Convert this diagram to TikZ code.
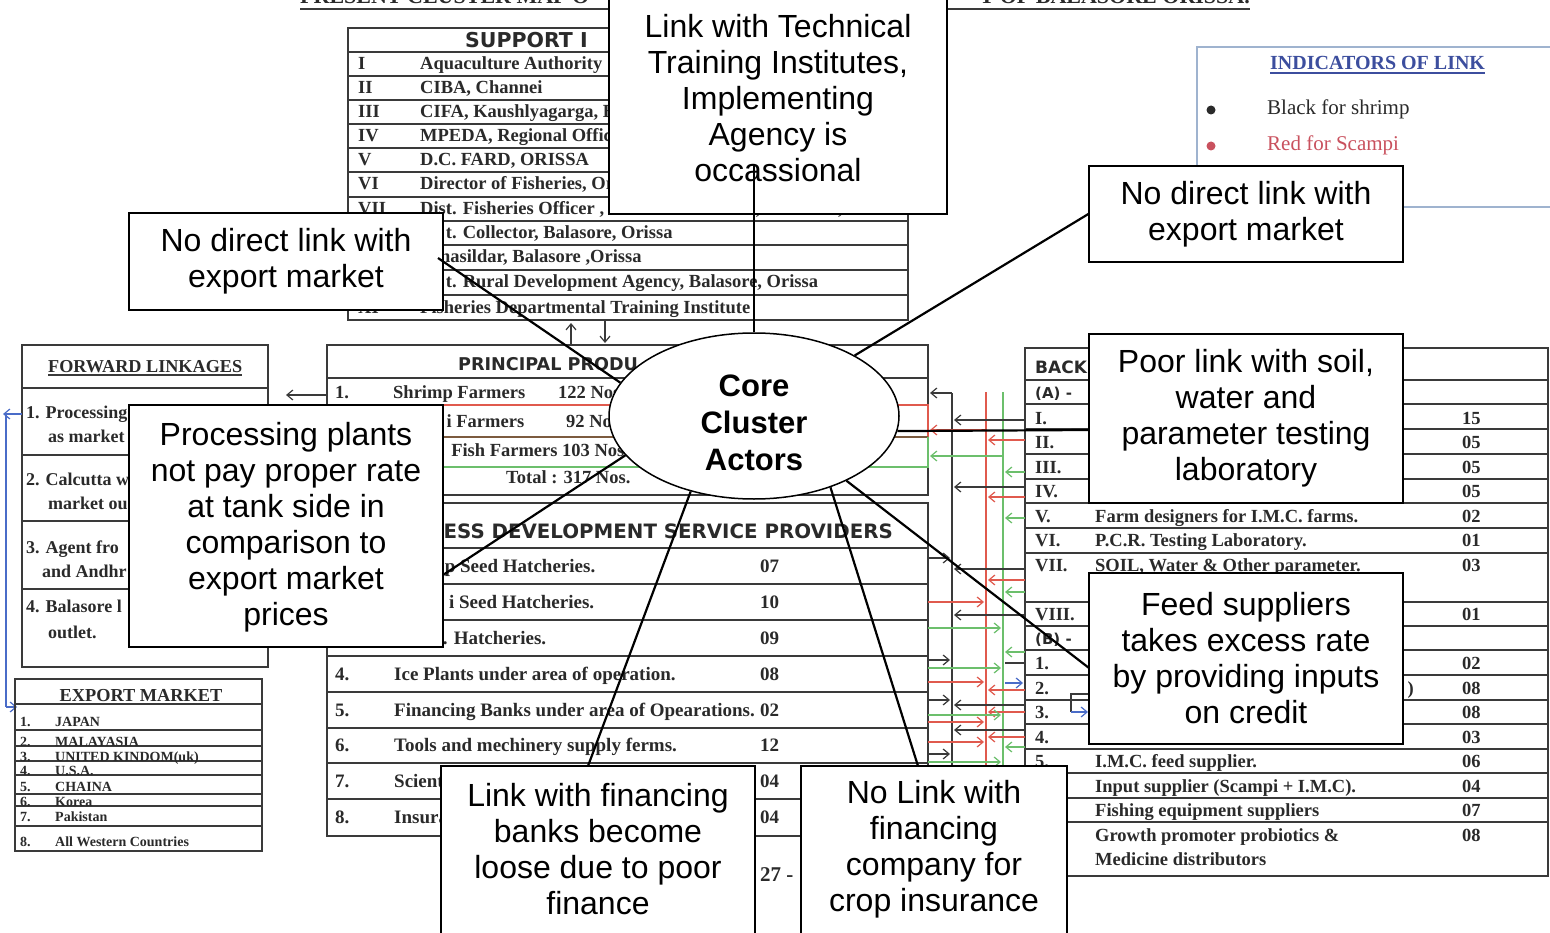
\documentclass[tikz,border=0pt]{standalone}
\usepackage{fontspec}
\setmainfont{Liberation Serif}
\newfontfamily\sansf{Liberation Sans}
\newfontfamily\hdrf{DejaVu Sans}
\usetikzlibrary{shapes.geometric,arrows.meta}
\newcommand\fsz[2]{\fontsize{#1}{#2}\selectfont}
\definecolor{docline}{HTML}{3A3A3A}
\definecolor{doctext}{HTML}{2A2A2A}
\definecolor{lred}{HTML}{E05A4E}
\definecolor{lgreen}{HTML}{6CBF6C}
\definecolor{lblue}{HTML}{4A6CC8}
\definecolor{indblue}{HTML}{3C4E9E}
\definecolor{indframe}{HTML}{9FB3CF}
\definecolor{scred}{HTML}{C9515E}
\begin{document}
\begin{tikzpicture}[x=1pt,y=-1pt,
  tline/.style={draw=docline, line width=1.7pt},
  tthin/.style={draw=docline, line width=1.2pt},
  ttxt/.style={anchor=base west, inner sep=0pt, text=doctext, font=\bfseries\fsz{18.5}{20}},
  etxt/.style={anchor=base west, inner sep=0pt, text=doctext, font=\bfseries\fsz{14}{15}},
  htxt/.style={anchor=base west, inner sep=0pt, text=doctext, font=\hdrf\bfseries\fsz{19}{22}},
  cbox/.style={draw=black, line width=1.3pt, fill=white, inner sep=0pt},
  ctext/.style={font=\sansf\fsz{32}{36}, align=center, inner sep=0pt, text=black},
  conn/.style={draw=black, line width=2.2pt},
  barb/.style={-{Straight Barb[length=6pt,width=10pt]}, line width=1.2pt},
]
\useasboundingbox (0,0) rectangle (1550,933);
\fill[white] (0,0) rectangle (1550,933);

% ---------- title ----------
\node[anchor=base west, inner sep=0pt, text=doctext, font=\bfseries\fsz{22}{24}] (t1) at (300,4) {PRESENT CLUSTER MAP O};
\node[anchor=base east, inner sep=0pt, text=doctext, font=\bfseries\fsz{22}{24}] (t2) at (1250,4) {T OF BALASORE ORISSA.};
\draw[docline, line width=2pt] ([yshift=-5pt]t1.base west) -- ([yshift=-5pt]t2.base east);

% ---------- support table ----------
\draw[tline] (348,28) rectangle (908,320);
\foreach \y in {52,76,100,124,148,172,197,221,245,270,295} \draw[tline] (348,\y) -- (908,\y);
\node[htxt, font=\hdrf\bfseries\fsz{20.5}{24}] (shdr) at (465,48) {SUPPORT I};
\foreach \r/\t/\y [count=\i] in {
  I/{Aquaculture Authority}/70,
  II/{CIBA, Channei}/94,
  III/{CIFA, Kaushlyagarga, B}/118,
  IV/{MPEDA, Regional Office}/142,
  V/{D.C. FARD, ORISSA}/166,
  VI/{Director of Fisheries, Orissa}/190,
  VII/{Dist. Fisheries Officer , F.F.D.A \& B.F.D.A, Balasore ,Orissa}/215}
{
  \node[ttxt] (sn\i) at (358,\y) {\r};
  \node[ttxt] (st\i) at (420,\y) {\t};
}
\node[ttxt] (st8) at (420,239) {\phantom{Dis}t. Collector, Balasore, Orissa};
\node[ttxt] (st9) at (420,263) {\phantom{Ta}hasildar, Balasore ,Orissa};
\node[ttxt] (st10) at (420,288) {\phantom{Dis}t. Rural Development Agency, Balasore, Orissa};
\node[ttxt] (sn11) at (358,313) {XI};
\node[ttxt] (st11) at (420,313) {Fisheries Departmental Training Institute};
\draw[barb, docline] (571,345) -- (571,323);
\draw[barb, docline] (605,320) -- (605,343);

% ---------- principal producers ----------
\draw[tline] (928,405) -- (928,345) -- (327,345) -- (327,495) -- (928,495) -- (928,467);
\draw[tline] (327,378) -- (928,378);
\draw[lred, line width=1.7pt] (327,405) -- (928,405) -- (928,437);
\draw[lred!60!lgreen!70!black, line width=1.7pt] (327,437) -- (928,437);
\draw[lgreen, line width=1.7pt] (928,437) -- (928,467) -- (327,467);
\node[htxt, font=\hdrf\bfseries\fsz{17.6}{20}] (phdr) at (458,370) {PRINCIPAL PRODU};
\node[ttxt] (p1n) at (335,398) {1.};
\node[ttxt] (p1t) at (393,398) {Shrimp Farmers};
\node[ttxt] (p1v) at (558,398) {122 Nos};
\node[ttxt] (p2t) at (393,427) {\phantom{Scamp}i Farmers};
\node[ttxt] (p2v) at (566,427) {92 No};
\node[ttxt] (p3t) at (393,456) {\phantom{I.M.C}. Fish Farmers 103 Nos.};
\node[ttxt] (ptot) at (506,483) {Total : 317 Nos.};
\draw[barb, docline] (327,395) -- (286,395);

% ---------- forward linkages ----------
\draw[tline] (22,345) rectangle (268,667);
\foreach \y in {388,455,521,589} \draw[tline] (22,\y) -- (268,\y);
\node[ttxt, font=\bfseries\fsz{18.2}{20}] (fwh) at (48,372) {FORWARD LINKAGES};
\draw[docline, line width=1.2pt] ([yshift=-3pt]fwh.base west) -- ([yshift=-3pt]fwh.base east);
\node[ttxt, font=\bfseries\fsz{18}{20}] (f1a) at (26,418) {1. Processing};
\node[ttxt, font=\bfseries\fsz{18}{20}] (f1b) at (48,442) {as market};
\node[ttxt, font=\bfseries\fsz{18}{20}] (f2a) at (26,485) {2. Calcutta w};
\node[ttxt, font=\bfseries\fsz{18}{20}] (f2b) at (48,509) {market ou};
\node[ttxt, font=\bfseries\fsz{18}{20}] (f3a) at (26,553) {3. Agent fro};
\node[ttxt, font=\bfseries\fsz{18}{20}] (f3b) at (42,577) {and Andhr};
\node[ttxt, font=\bfseries\fsz{18}{20}] (f4a) at (26,612) {4. Balasore l};
\node[ttxt, font=\bfseries\fsz{18}{20}] (f4b) at (48,638) {outlet.};
\draw[barb, lblue] (22,414) -- (3,414);
\draw[lblue, line width=1.2pt] (6,414) -- (6,707);
\draw[barb, lblue] (6,707) -- (17,707);

% ---------- export market ----------
\draw[tline] (15,679) rectangle (262,851);
\foreach \y in {704,730,746,761,775,794,806,826} \draw[tthin] (15,\y) -- (262,\y);
\node[anchor=base, inner sep=0pt, text=doctext, font=\bfseries\fsz{18.3}{20}] (exh) at (141,701) {EXPORT MARKET};
\foreach \n/\t/\y [count=\i] in {1./JAPAN/726, 2./MALAYASIA/746, 3./UNITED KINDOM(uk)/761, 4./U.S.A./775, 5./CHAINA/791, 6./Korea/806, 7./Pakistan/821, 8./All Western Countries/846}
{
  \node[etxt] (en\i) at (20,\y) {\n};
  \node[etxt] (et\i) at (55,\y) {\t};
}

% ---------- BDS table ----------
\draw[tline] (327,503) rectangle (928,836);
\foreach \y in {548,584,620,656,692,728,763,799} \draw[tline] (327,\y) -- (928,\y);
\node[anchor=base east, inner sep=0pt, text=doctext, font=\hdrf\bfseries\fsz{19.8}{22}] (bhdr) at (893,538) {ESS DEVELOPMENT SERVICE PROVIDERS};
\node[ttxt, font=\bfseries\fsz{19}{21}] (bt1) at (394,572) {\phantom{Shrim}p Seed Hatcheries.};
\node[ttxt, font=\bfseries\fsz{19}{21}] (bt2) at (394,608) {\phantom{Scamp}i Seed Hatcheries.};
\node[ttxt, font=\bfseries\fsz{19}{21}] (bt3) at (394,644) {\phantom{I.M.C}. Hatcheries.};
\foreach \n/\t/\y [count=\i from 4] in {
  4./{Ice Plants under area of operation.}/680,
  5./{Financing Banks under area of Opearations.}/716,
  6./{Tools and mechinery supply ferms.}/751,
  7./{Scient}/787,
  8./{Insura}/823}
{
  \node[ttxt, font=\bfseries\fsz{19}{21}] (bn\i) at (335,\y) {\n};
  \node[ttxt, font=\bfseries\fsz{19}{21}] (bt\i) at (394,\y) {\t};
}
\foreach \v/\y [count=\i] in {07/572, 10/608, 09/644, 08/680, 02/716, 12/751, 04/787, 04/823}
  \node[ttxt, font=\bfseries\fsz{19}{21}] (bv\i) at (760,\y) {\v};
\node[ttxt, font=\bfseries\fsz{21}{23}] (pg) at (760,881) {27 -};

% ---------- backward linkages ----------
\draw[tline] (1025,348) rectangle (1548,876);
\foreach \y in {380,404,429,454,479,503,528,553,602,626,650,675,700,724,749,773,798,822} \draw[tline] (1025,\y) -- (1548,\y);
\node[htxt, font=\hdrf\bfseries\fsz{17}{20}] (kh) at (1035,373) {BACK};
\node[htxt, font=\hdrf\bfseries\fsz{15}{18}] (ka) at (1035,398) {(A) -};
\node[htxt, font=\hdrf\bfseries\fsz{15}{18}] (kb) at (1035,644) {(B) -};
\foreach \n/\y [count=\i] in {I./424, II./448, III./473, IV./497, V./522, VI./546, VII./571, VIII./620, 1./669, 2./694, 3./718, 4./743, 5./767}
  \node[ttxt] (kn\i) at (1035,\y) {\n};
\foreach \v/\y [count=\i] in {15/424, 05/448, 05/473, 05/497, 02/522, 01/546, 03/571, 01/620, 02/669, 08/694, 08/718, 03/743, 06/767, 04/792, 07/816, 08/841}
  \node[ttxt] (kv\i) at (1462,\y) {\v};
\foreach \t/\y [count=\i] in {
  {Farm designers for I.M.C. farms.}/522,
  {P.C.R. Testing Laboratory.}/546,
  {SOIL, Water \& Other parameter.}/571,
  {I.M.C. feed supplier.}/767,
  {Input supplier (Scampi + I.M.C).}/792,
  {Fishing equipment suppliers}/816,
  {Growth promoter probiotics \&}/841,
  {Medicine distributors}/865}
  \node[ttxt] (kt\i) at (1095,\y) {\t};
\node[anchor=base east, inner sep=0pt, text=doctext, font=\bfseries\fsz{18.5}{20}] (kpar) at (1414,694) {)};

% ---------- link lines between tables ----------
\draw[tthin] (952,393) -- (952,800);
\draw[lred, line width=1.2pt] (986,392) -- (986,800);
\draw[lgreen, line width=1.2pt] (1003,392) -- (1003,800);
\draw[barb, docline] (952,393) -- (930,393);
\draw[barb, lred] (986,430) -- (930,430);
\draw[barb, lgreen] (1003,456) -- (930,456);
\foreach \y in {420,487,569,615,705,730} \draw[barb, docline] (1025,\y) -- (954,\y);
\foreach \y in {440,497,580,690,712,737} \draw[barb, lred] (1025,\y) -- (988,\y);
\foreach \y in {472,518,592,652,747} \draw[barb, lgreen] (1025,\y) -- (1005,\y);
\foreach \y in {558,660,700,754} \draw[barb, docline] (928,\y) -- (950,\y);
\foreach \y in {602,682,722,742} \draw[barb, lred] (928,\y) -- (984,\y);
\foreach \y in {628,668,715,762} \draw[barb, lgreen] (928,\y) -- (1001,\y);
\draw[tthin] (1005,663) -- (1024,663);
\draw[barb, lblue] (1005,683) -- (1023,683);
\draw[tthin] (1089,694) -- (1071,694) -- (1071,712);
\draw[barb, lblue] (1071,712) -- (1088,712);

% ---------- indicators ----------
\draw[indframe, line width=1.5pt] (1560,47) -- (1197,47) -- (1197,207) -- (1560,207);
\node[anchor=base west, inner sep=0pt, text=indblue, font=\bfseries\fsz{20}{22}] (ih) at (1270,70) {INDICATORS OF LINK};
\draw[indblue, line width=1.2pt] ([yshift=-3pt]ih.base west) -- ([yshift=-3pt]ih.base east);
\fill[doctext] (1211,110) circle[radius=4.5pt];
\fill[scred] (1211,146) circle[radius=4.5pt];
\node[anchor=base west, inner sep=0pt, text=doctext, font=\fsz{21}{23}] (i1) at (1267,115) {Black for shrimp};
\node[anchor=base west, inner sep=0pt, text=scred, font=\fsz{21}{23}] (i2) at (1267,151) {Red for Scampi};

% ---------- core ellipse ----------
\node[ellipse, draw=black, line width=1.5pt, fill=white, minimum width=290, minimum height=166, inner sep=0pt] (core) at (754,416) {};
\node[font=\sansf\bfseries\fsz{31}{37}, align=center, inner sep=0pt] (coretx) at (754,423) {Core\\Cluster\\Actors};

% ---------- callout boxes ----------
\node[cbox, minimum width=338, minimum height=231] (bA) at (778,98.5) {};
\node[ctext] (tA) at (778,98.5) {Link with Technical\\Training Institutes,\\Implementing\\Agency is\\occassional};
\node[cbox, minimum width=314, minimum height=97] (bB) at (286,261.5) {};
\node[ctext] (tB) at (286,261) {No direct link with\\export market};
\node[cbox, minimum width=314, minimum height=96] (bC) at (1246,214) {};
\node[ctext] (tC) at (1246,214) {No direct link with\\export market};
\node[cbox, minimum width=314, minimum height=169] (bD) at (1246,418.5) {};
\node[ctext] (tD) at (1246,418) {Poor link with soil,\\water and\\parameter testing\\laboratory};
\node[cbox, minimum width=314, minimum height=171] (bE) at (1246,658.5) {};
\node[ctext] (tE) at (1246,658) {Feed suppliers\\takes excess rate\\by providing inputs\\on credit};
\node[cbox, minimum width=314, minimum height=242] (bF) at (286,526) {};
\node[ctext] (tF) at (286,527) {Processing plants\\not pay proper rate\\at tank side in\\comparison to\\export market\\prices};
\node[cbox, minimum width=314, minimum height=179] (bG) at (598,855.5) {};
\node[ctext] (tG) at (598,849) {Link with financing\\banks become\\loose due to poor\\finance};
\node[cbox, minimum width=266, minimum height=179] (bH) at (934,855.5) {};
\node[ctext] (tH) at (934,849) {No Link with\\financing\\company for\\crop insurance};

% ---------- connectors ----------
\coordinate (cA) at (754,165);
\coordinate (cB) at (438,258);
\coordinate (cD) at (1089,430);
\coordinate (cE) at (1089,668);
\coordinate (cF) at (443,575);
\coordinate (cG) at (588,766);
\coordinate (cH) at (918,766);
\draw[conn] (core.north) -- (cA);
\draw[conn] (core.166) -- (cB);
\draw[conn] (core.31) -- (bC.west);
\draw[conn] (core.354.4) -- (cD);
\draw[conn] (core.325) -- (cE);
\draw[conn] (core.197) -- (cF);
\draw[conn] (core.230) -- (cG);
\draw[conn] (core.317) -- (cH);
\end{tikzpicture}
\end{document}
